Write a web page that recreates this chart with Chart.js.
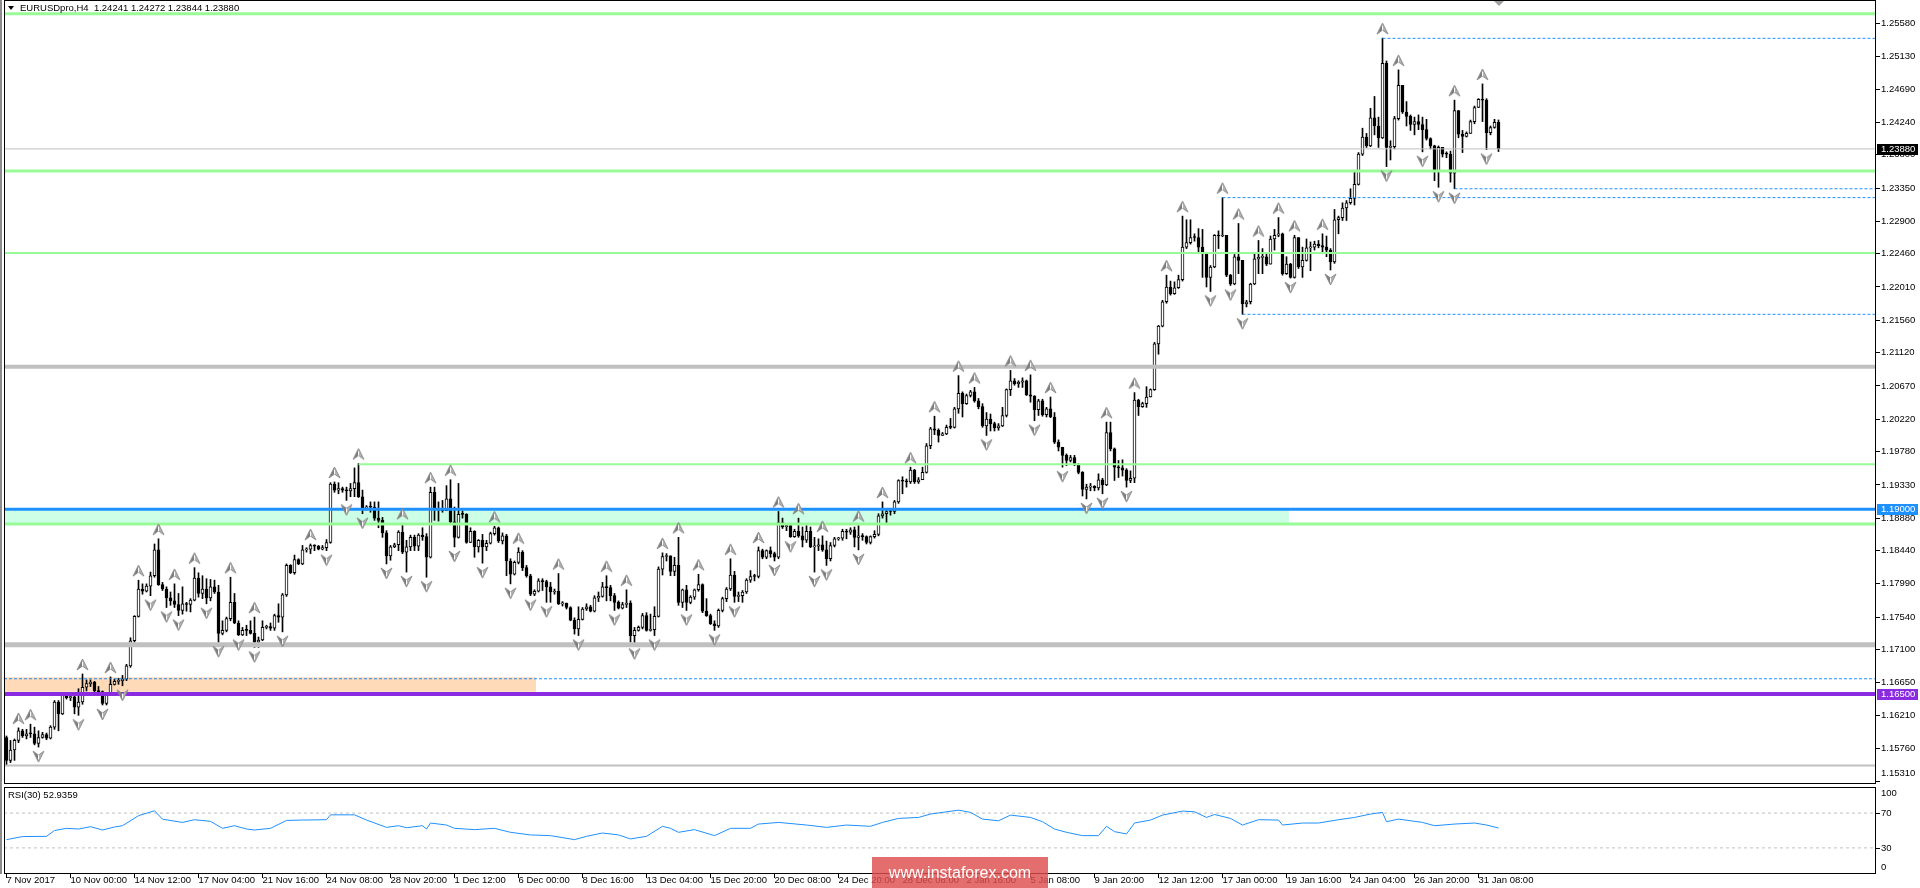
<!DOCTYPE html>
<html><head><meta charset="utf-8">
<script src="https://cdn.jsdelivr.net/npm/chart.js@4.4.1/dist/chart.umd.min.js"></script>
<style>
html,body{margin:0;padding:0;background:#fff;width:1920px;height:888px;overflow:hidden;position:relative;}
canvas{position:absolute;left:0;}
#c1{top:0;}
#c2{top:786px;}
.t{position:absolute;font-family:"Liberation Sans",Arial,sans-serif;font-size:9.5px;color:#000;white-space:pre;line-height:12px;}
#edge{position:absolute;left:0;top:0;width:2px;height:874px;background:#8c8c8c;}
#wm{position:absolute;left:872px;top:857px;width:176px;height:31px;background:rgba(222,78,78,0.82);color:#fff;font-family:"Liberation Sans",Arial,sans-serif;font-size:16px;text-align:center;line-height:31px;}
</style></head><body>
<canvas id="c1" width="1920" height="786"></canvas>
<canvas id="c2" width="1920" height="102"></canvas>
<div id="edge"></div>
<div class="t" style="left:20px;top:2px">EURUSDpro,H4  1.24241 1.24272 1.23844 1.23880</div>
<div class="t" style="left:8px;top:789px">RSI(30) 52.9359</div>
<div id="wm">www.instaforex.com</div>
<script>
// ---------- DATA ----------
const firstOpen = 1.1591;
const closes = [1.1560,1.1574,1.1587,1.1600,1.1593,1.1596,1.1596,1.1583,1.1591,1.1595,1.1590,1.1605,1.1639,1.1623,1.1648,1.1645,1.1646,1.1632,1.1639,1.1659,
1.1664,1.1666,1.1654,1.1653,1.1637,1.1650,1.1663,1.1667,1.1668,1.1670,1.1688,1.1722,1.1755,1.1792,1.1789,1.1796,1.1810,1.1845,1.1798,1.1792,
1.1780,1.1776,1.1771,1.1763,1.1772,1.1771,1.1777,1.1807,1.1786,1.1792,1.1780,1.1795,1.1788,1.1732,1.1736,1.1752,1.1774,1.1746,1.1730,1.1736,
1.1736,1.1732,1.1720,1.1723,1.1740,1.1741,1.1739,1.1756,1.1754,1.1784,1.1824,1.1814,1.1832,1.1826,1.1845,1.1846,1.1851,1.1850,1.1846,1.1848,
1.1855,1.1934,1.1926,1.1928,1.1926,1.1925,1.1928,1.1936,1.1917,1.1902,1.1903,1.1903,1.1888,1.1885,1.1868,1.1837,1.1849,1.1852,1.1869,1.1842,
1.1849,1.1862,1.1850,1.1865,1.1863,1.1835,1.1923,1.1901,1.1899,1.1898,1.1914,1.1883,1.1862,1.1893,1.1893,1.1855,1.1870,1.1849,1.1858,1.1849,
1.1854,1.1867,1.1875,1.1857,1.1864,1.1830,1.1812,1.1828,1.1842,1.1821,1.1810,1.1785,1.1789,1.1803,1.1802,1.1795,1.1788,1.1789,1.1772,1.1773,
1.1767,1.1750,1.1738,1.1751,1.1765,1.1768,1.1762,1.1780,1.1782,1.1795,1.1794,1.1783,1.1774,1.1766,1.1771,1.1773,1.1729,1.1736,1.1740,1.1756,
1.1736,1.1737,1.1755,1.1819,1.1836,1.1837,1.1816,1.1824,1.1774,1.1791,1.1774,1.1781,1.1791,1.1798,1.1762,1.1756,1.1745,1.1742,1.1763,1.1779,
1.1792,1.1811,1.1782,1.1783,1.1788,1.1804,1.1809,1.1809,1.1844,1.1835,1.1844,1.1840,1.1835,1.1882,1.1876,1.1878,1.1863,1.1870,1.1864,1.1858,
1.1870,1.1849,1.1850,1.1852,1.1845,1.1833,1.1851,1.1860,1.1861,1.1870,1.1869,1.1872,1.1862,1.1864,1.1863,1.1855,1.1863,1.1866,1.1891,1.1894,
1.1897,1.1897,1.1910,1.1939,1.1938,1.1937,1.1953,1.1937,1.1940,1.1950,1.1986,1.2009,1.2007,1.2000,1.2002,1.2011,1.2011,1.2036,1.2057,1.2043,
1.2054,1.2059,1.2047,1.2039,1.2013,1.2022,1.2016,1.2010,1.2013,1.2027,1.2062,1.2074,1.2070,1.2072,1.2074,1.2055,1.2053,1.2035,1.2047,1.2028,
1.2036,1.2025,1.1991,1.1984,1.1973,1.1966,1.1970,1.1961,1.1950,1.1927,1.1930,1.1931,1.1929,1.1940,1.1933,1.2004,1.1982,1.1957,1.1956,1.1953,
1.1939,1.1942,1.2048,1.2039,1.2043,1.2052,1.2062,1.2124,1.2148,1.2181,1.2201,1.2192,1.2200,1.2211,1.2255,1.2261,1.2268,1.2268,1.2255,1.2246,
1.2214,1.2228,1.2271,1.2270,1.2271,1.2217,1.2205,1.2242,1.2237,1.2178,1.2181,1.2205,1.2239,1.2241,1.2242,1.2232,1.2266,1.2271,1.2273,1.2219,
1.2232,1.2214,1.2268,1.2228,1.2237,1.2254,1.2255,1.2259,1.2257,1.2255,1.2251,1.2235,1.2292,1.2295,1.2308,1.2315,1.2321,1.2340,1.2381,1.2404,
1.2392,1.2430,1.2419,1.2403,1.2504,1.2390,1.2391,1.2429,1.2474,1.2438,1.2432,1.2421,1.2425,1.2421,1.2414,1.2402,1.2392,1.2357,1.2390,1.2381,
1.2381,1.2355,1.2440,1.2408,1.2405,1.2409,1.2425,1.2444,1.2455,1.2454,1.2410,1.2417,1.2424,1.2388];
const highs = [1.1593,1.1587,1.1589,1.1604,1.1602,1.1602,1.1609,1.1605,1.1600,1.1598,1.1597,1.1607,1.1641,1.1641,1.1650,1.1650,1.1651,1.1648,1.1657,1.1677,
1.1669,1.1669,1.1667,1.1660,1.1654,1.1652,1.1673,1.1670,1.1671,1.1675,1.1690,1.1726,1.1756,1.1804,1.1799,1.1799,1.1815,1.1853,1.1860,1.1801,
1.1795,1.1788,1.1799,1.1786,1.1795,1.1774,1.1779,1.1821,1.1814,1.1810,1.1806,1.1805,1.1804,1.1797,1.1749,1.1754,1.1808,1.1786,1.1749,1.1740,
1.1743,1.1749,1.1754,1.1727,1.1749,1.1743,1.1746,1.1758,1.1772,1.1786,1.1826,1.1825,1.1838,1.1833,1.1851,1.1848,1.1853,1.1852,1.1851,1.1851,
1.1859,1.1936,1.1937,1.1936,1.1930,1.1930,1.1935,1.1956,1.1962,1.1926,1.1905,1.1910,1.1910,1.1910,1.1889,1.1871,1.1851,1.1854,1.1871,1.1881,
1.1858,1.1865,1.1865,1.1867,1.1875,1.1867,1.1930,1.1930,1.1910,1.1912,1.1932,1.1940,1.1903,1.1935,1.1898,1.1894,1.1875,1.1871,1.1859,1.1866,
1.1858,1.1869,1.1877,1.1876,1.1868,1.1866,1.1833,1.1830,1.1848,1.1844,1.1824,1.1812,1.1791,1.1806,1.1806,1.1804,1.1801,1.1792,1.1813,1.1775,
1.1773,1.1768,1.1753,1.1768,1.1767,1.1772,1.1770,1.1783,1.1788,1.1801,1.1810,1.1797,1.1786,1.1776,1.1774,1.1791,1.1776,1.1740,1.1742,1.1759,
1.1760,1.1758,1.1768,1.1822,1.1841,1.1840,1.1837,1.1835,1.1862,1.1792,1.1797,1.1783,1.1792,1.1812,1.1799,1.1779,1.1758,1.1749,1.1765,1.1781,
1.1794,1.1833,1.1816,1.1788,1.1790,1.1806,1.1817,1.1812,1.1849,1.1846,1.1845,1.1849,1.1842,1.1897,1.1888,1.1881,1.1880,1.1873,1.1888,1.1876,
1.1878,1.1876,1.1862,1.1860,1.1864,1.1857,1.1855,1.1862,1.1862,1.1873,1.1873,1.1875,1.1876,1.1878,1.1867,1.1864,1.1864,1.1871,1.1894,1.1910,
1.1901,1.1899,1.1912,1.1940,1.1944,1.1941,1.1957,1.1954,1.1943,1.1957,1.1989,1.2011,1.2026,1.2009,1.2004,1.2014,1.2023,1.2038,1.2081,1.2059,
1.2056,1.2061,1.2065,1.2050,1.2043,1.2031,1.2029,1.2018,1.2016,1.2038,1.2063,1.2088,1.2077,1.2074,1.2078,1.2075,1.2082,1.2054,1.2049,1.2049,
1.2038,1.2052,1.2031,1.1994,1.1984,1.1975,1.1973,1.1973,1.1962,1.1951,1.1934,1.1935,1.1932,1.1948,1.1942,1.2018,1.2018,1.1983,1.1966,1.1967,
1.1955,1.1952,1.2058,1.2049,1.2045,1.2066,1.2063,1.2126,1.2149,1.2183,1.2217,1.2209,1.2208,1.2217,1.2297,1.2292,1.2292,1.2273,1.2280,1.2279,
1.2248,1.2230,1.2272,1.2277,1.2322,1.2270,1.2218,1.2245,1.2287,1.2233,1.2183,1.2206,1.2246,1.2264,1.2253,1.2246,1.2270,1.2279,1.2295,1.2274,
1.2242,1.2233,1.2271,1.2268,1.2255,1.2266,1.2262,1.2263,1.2264,1.2273,1.2270,1.2253,1.2306,1.2297,1.2315,1.2318,1.2334,1.2357,1.2383,1.2416,
1.2409,1.2443,1.2459,1.2431,1.2538,1.2507,1.2399,1.2432,1.2495,1.2474,1.2452,1.2434,1.2431,1.2434,1.2431,1.2428,1.2403,1.2393,1.2392,1.2388,
1.2384,1.2385,1.2454,1.2440,1.2413,1.2411,1.2427,1.2446,1.2456,1.2476,1.2456,1.2419,1.2428,1.24272];
const lows = [1.1553,1.1557,1.1560,1.1584,1.1591,1.1589,1.1591,1.1581,1.1578,1.1590,1.1588,1.1589,1.1602,1.1600,1.1622,1.1643,1.1641,1.1623,1.1621,1.1636,
1.1654,1.1660,1.1652,1.1650,1.1635,1.1635,1.1648,1.1662,1.1663,1.1661,1.1668,1.1686,1.1720,1.1754,1.1785,1.1788,1.1783,1.1808,1.1797,1.1790,
1.1767,1.1770,1.1767,1.1756,1.1758,1.1762,1.1761,1.1776,1.1781,1.1779,1.1772,1.1776,1.1786,1.1720,1.1730,1.1734,1.1749,1.1745,1.1729,1.1729,
1.1729,1.1731,1.1713,1.1713,1.1722,1.1738,1.1736,1.1736,1.1747,1.1734,1.1782,1.1813,1.1812,1.1825,1.1825,1.1842,1.1840,1.1844,1.1845,1.1845,
1.1844,1.1854,1.1923,1.1921,1.1923,1.1912,1.1917,1.1917,1.1916,1.1894,1.1899,1.1896,1.1885,1.1875,1.1862,1.1826,1.1831,1.1848,1.1844,1.1840,
1.1815,1.1844,1.1844,1.1844,1.1858,1.1808,1.1834,1.1885,1.1884,1.1896,1.1898,1.1881,1.1849,1.1861,1.1888,1.1854,1.1855,1.1835,1.1842,1.1827,
1.1844,1.1853,1.1865,1.1855,1.1853,1.1810,1.1799,1.1811,1.1826,1.1817,1.1808,1.1783,1.1783,1.1788,1.1790,1.1774,1.1774,1.1785,1.1771,1.1769,
1.1765,1.1749,1.1731,1.1729,1.1750,1.1763,1.1761,1.1761,1.1775,1.1781,1.1776,1.1776,1.1763,1.1765,1.1765,1.1767,1.1720,1.1717,1.1735,1.1738,
1.1735,1.1735,1.1729,1.1754,1.1811,1.1830,1.1810,1.1810,1.1770,1.1767,1.1763,1.1772,1.1778,1.1789,1.1760,1.1755,1.1744,1.1736,1.1740,1.1761,
1.1775,1.1790,1.1774,1.1775,1.1774,1.1786,1.1801,1.1803,1.1807,1.1833,1.1833,1.1835,1.1830,1.1833,1.1874,1.1871,1.1862,1.1862,1.1862,1.1849,
1.1855,1.1848,1.1815,1.1844,1.1843,1.1824,1.1830,1.1849,1.1858,1.1858,1.1860,1.1866,1.1849,1.1845,1.1858,1.1853,1.1853,1.1861,1.1864,1.1888,
1.1882,1.1892,1.1894,1.1908,1.1921,1.1930,1.1935,1.1935,1.1935,1.1941,1.1949,1.1982,1.2001,1.1991,1.2000,1.2001,1.2009,1.2010,1.2030,1.2025,
1.2042,1.2052,1.2045,1.2036,1.2011,1.2000,1.2006,1.2006,1.2007,1.2012,1.2025,1.2054,1.2068,1.2065,1.2065,1.2054,1.2045,1.2020,1.2027,1.2026,
1.2025,1.2024,1.1989,1.1979,1.1957,1.1959,1.1964,1.1959,1.1948,1.1918,1.1914,1.1925,1.1925,1.1926,1.1921,1.1932,1.1979,1.1939,1.1943,1.1945,
1.1930,1.1936,1.1936,1.2027,1.2038,1.2038,1.2052,1.2061,1.2110,1.2147,1.2179,1.2190,1.2191,1.2199,1.2209,1.2253,1.2259,1.2263,1.2246,1.2214,
1.2201,1.2195,1.2227,1.2253,1.2269,1.2215,1.2203,1.2204,1.2219,1.2164,1.2174,1.2178,1.2204,1.2219,1.2219,1.2230,1.2232,1.2251,1.2269,1.2217,
1.2218,1.2213,1.2213,1.2226,1.2214,1.2236,1.2223,1.2251,1.2254,1.2246,1.2242,1.2224,1.2233,1.2273,1.2291,1.2291,1.2313,1.2312,1.2339,1.2379,
1.2390,1.2391,1.2407,1.2390,1.2402,1.2364,1.2373,1.2388,1.2427,1.2436,1.2419,1.2413,1.2407,1.2414,1.2384,1.2400,1.2388,1.2345,1.2336,1.2377,
1.2376,1.2343,1.2334,1.2403,1.2383,1.2404,1.2409,1.2422,1.2444,1.2425,1.2387,1.2407,1.2416,1.23844];

const rsiIdx = [0,4,10,12,15,18,21,24,27,29,33,37,39,44,47,51,54,57,60,62,66,70,74,80,81,87,90,95,98,100,104,105,106,110,112,117,122,126,131,136,
142,145,149,153,156,160,164,166,168,172,177,181,186,188,193,200,205,210,216,219,223,228,231,238,241,244,248,251,256,259,262,265,269,273,275,277,280,282,286,289,
294,297,300,302,306,309,313,318,319,324,328,333,337,341,344,345,348,354,357,362,367,370,373];
const rsiVals = [39.5,43,43.3,50,52.5,51.7,54.4,50.6,54,55.5,67,72.7,63,59.3,62.4,60.5,52.5,55.5,51.7,50.6,52.5,61.6,62,62.4,68,68,62,53.6,55.5,53.2,55.5,51.7,58.6,56.3,52.5,51,52.5,47.9,44.9,44.1,
39.5,43.3,47.1,44.9,40.3,43.3,54.8,52.5,47.9,51,44.1,52.5,52.5,57.4,59.3,56.3,53.6,56.3,54.8,59.3,63.9,65,68.9,73.4,70.8,63.1,61.2,67.7,65,60.1,51.7,47.9,44.1,44.1,54.8,48.7,46,58.6,62,67.7,
72.3,71.5,65,68.4,63.9,56.3,62.4,62,56.3,58.6,58.6,62.4,65,68.9,70.8,60.1,63.1,59.3,55.5,57.4,58.6,56.3,52.9];
const rsiLevels = [70, 30];

const priceTicks = [1.25580,1.25130,1.24690,1.24240,1.23800,1.23350,1.22900,1.22460,1.22010,1.21560,1.21120,1.20670,1.20220,1.19780,1.19330,1.18880,1.18440,1.17990,1.17540,1.17100,1.16650,1.16210,1.15760,1.15310];
const timeTickIdx = [0,16,32,48,64,80,96,112,128,144,160,176,192,208,224,240,256,272,288,304,320,336,352,368];
const timeTickLabels = ['7 Nov 2017','10 Nov 00:00','14 Nov 12:00','17 Nov 04:00','21 Nov 16:00','24 Nov 08:00','28 Nov 20:00','1 Dec 12:00','6 Dec 00:00','8 Dec 16:00','13 Dec 04:00','15 Dec 20:00','20 Dec 08:00','24 Dec 20:00','28 Dec 08:00','2 Jan 16:00','5 Jan 08:00','9 Jan 20:00','12 Jan 12:00','17 Jan 00:00','19 Jan 16:00','24 Jan 04:00','26 Jan 20:00','31 Jan 08:00'];

// horizontal objects (prices, start bar index)
const greenLevels = [1.2571, 1.2358, 1.2247, 1.1961, 1.1880];
const greenStarts = [null, null, null, 88, null];
const grayLevels = [1.2093, 1.17165, 1.1553];
const dashedLevels = [1.25377, 1.2334, 1.2322, 1.2164, 1.16705];
const dashedStarts = [344, 362, 304, 309, null];
const bidPrice = 1.23880;
const blueLevel = 1.19000;
const purpleLevel = 1.16500;
const greenZone = [1.1880, 1.1900], greenZoneEnd = 320.6;
const orangeZone = [1.16530, 1.16727], orangeZoneEnd = 132.4;

// ---------- BUILD ----------
const FONT = '"Liberation Sans", Arial, sans-serif';
const XMIN = -0.625, XMAX = 467.375;
const YMAX = 1.25896, YMIN = 1.15280;
const opens = closes.map((c, i) => i === 0 ? firstOpen : closes[i - 1]);
const wickData = closes.map((c, i) => ({x: i, y: [Math.min(lows[i], opens[i], c), Math.max(highs[i], opens[i], c)]}));
const bodyData = closes.map((c, i) => ({x: i, y: [opens[i], c]}));
const bodyColors = closes.map((c, i) => c > opens[i] ? '#ffffff' : '#000000');

function hline(p, start, end, color, width, dash, order) {
  return {type: 'line', data: [{x: start == null ? XMIN : start, y: p}, {x: end == null ? XMAX : end, y: p}],
    borderColor: color, borderWidth: width, borderDash: dash || [], pointRadius: 0, fill: false, order: order, tension: 0};
}
function arrowCanvas(up) {
  const c = document.createElement('canvas'); c.width = 13; c.height = 40;
  const g = c.getContext('2d');
  const t = up ? 5 : 35, b = up ? 16 : 24, n = up ? 12 : 28;
  g.lineJoin = 'round';
  g.beginPath(); g.moveTo(6.5, t); g.lineTo(1, b); g.lineTo(6.5, n); g.closePath(); g.fillStyle = '#7c7c7c'; g.fill();
  g.beginPath(); g.moveTo(6.5, t); g.lineTo(12, b); g.lineTo(6.5, n); g.closePath(); g.fillStyle = '#b4b4b4'; g.fill();
  g.beginPath(); g.moveTo(6.5, t); g.lineTo(1, b); g.lineTo(6.5, n); g.lineTo(12, b); g.closePath();
  g.strokeStyle = '#8c8c8c'; g.lineWidth = 1; g.stroke();
  g.strokeStyle = '#ffffff'; g.beginPath(); g.moveTo(6.5, t + (up ? 3 : -3)); g.lineTo(6.5, n); g.stroke();
  return c;
}
const upFr = [], dnFr = [];
for (let i = 2; i < closes.length - 2; i++) {
  const h = highs[i], l = lows[i];
  if (h > highs[i-1] && h > highs[i-2] && h >= highs[i+1] && h >= highs[i+2]) upFr.push({x: i, y: h});
  if (l < lows[i-1] && l < lows[i-2] && l <= lows[i+1] && l <= lows[i+2]) dnFr.push({x: i, y: l});
}

const datasets = [];
datasets.push({type:'line', data:[{x:XMIN,y:greenZone[1]},{x:greenZoneEnd,y:greenZone[1]}], borderWidth:0, pointRadius:0, fill:'+1', backgroundColor:'rgb(204,255,230)', order:100});
datasets.push({type:'line', data:[{x:XMIN,y:greenZone[0]},{x:greenZoneEnd,y:greenZone[0]}], borderWidth:0, pointRadius:0, fill:false, order:100});
datasets.push({type:'line', data:[{x:XMIN,y:orangeZone[1]},{x:orangeZoneEnd,y:orangeZone[1]}], borderWidth:0, pointRadius:0, fill:'+1', backgroundColor:'rgb(255,218,185)', order:100});
datasets.push({type:'line', data:[{x:XMIN,y:orangeZone[0]},{x:orangeZoneEnd,y:orangeZone[0]}], borderWidth:0, pointRadius:0, fill:false, order:100});
datasets.push({type:'bar', data: wickData, backgroundColor:'#000', borderWidth:0, barThickness:1, grouped:false, order:50});
datasets.push({type:'bar', data: bodyData, backgroundColor: bodyColors, borderColor:'#000', borderWidth:1, borderSkipped:false, barThickness:3, minBarLength:1, grouped:false, order:40});
const gw = [3, 3, 2, 2, 3];
greenLevels.forEach((p, k) => datasets.push(hline(p, greenStarts[k], null, 'rgb(152,251,152)', gw[k], null, 30)));
const grw = [4, 5, 2];
grayLevels.forEach((p, k) => datasets.push(hline(p, null, null, 'rgb(192,192,192)', grw[k], null, 30)));
dashedLevels.forEach((p, k) => datasets.push(hline(p, dashedStarts[k], null, 'rgb(30,144,255)', 1, [3, 2], 30)));
datasets.push(hline(bidPrice, null, null, 'rgb(192,192,192)', 1, null, 30));
datasets.push(hline(blueLevel, null, null, 'rgb(30,144,255)', 3, null, 30));
datasets.push(hline(purpleLevel, null, null, 'rgb(138,43,226)', 4, null, 30));
datasets.push({type:'line', data: upFr, showLine:false, pointStyle: arrowCanvas(true), pointRadius:5, order:10, clip:false});
datasets.push({type:'line', data: dnFr, showLine:false, pointStyle: arrowCanvas(false), pointRadius:5, order:10, clip:false});

const framePlugin = {
  id: 'frame',
  afterDraw(chart) {
    const {ctx, chartArea: a} = chart;
    ctx.save();
    ctx.strokeStyle = '#000'; ctx.lineWidth = 1;
    ctx.strokeRect(a.left + 0.5, a.top + 0.5, a.right - a.left - 1, a.bottom - a.top - 1);
    ctx.restore();
  }
};
const lastPriceTick = priceTicks[priceTicks.length - 1];
const boxPlugin = {
  id: 'boxes',
  afterDraw(chart) {
    const {ctx, chartArea: a} = chart; const ys = chart.scales.y;
    const items = [[bidPrice, '#000000'], [blueLevel, 'rgb(30,144,255)'], [purpleLevel, 'rgb(138,43,226)']];
    ctx.save();
    ctx.font = '9.5px ' + FONT; ctx.textBaseline = 'middle'; ctx.textAlign = 'left';
    ctx.fillStyle = '#000';
    ctx.fillText(lastPriceTick.toFixed(5), 1881, Math.min(ys.getPixelForValue(lastPriceTick), a.bottom - 11));
    items.forEach(([p, col]) => {
      const y = Math.round(ys.getPixelForValue(p));
      ctx.fillStyle = col; ctx.fillRect(1877, y - 5, 41, 11);
      ctx.fillStyle = '#fff'; ctx.fillText(p.toFixed(5), 1881, y + 0.5);
    });
    ctx.fillStyle = '#000';
    ctx.beginPath(); ctx.moveTo(8, 6); ctx.lineTo(14, 6); ctx.lineTo(11, 10); ctx.closePath(); ctx.fill();
    ctx.fillStyle = '#a0a0a0';
    ctx.beginPath(); ctx.moveTo(1494, 1); ctx.lineTo(1504, 1); ctx.lineTo(1499, 6); ctx.closePath(); ctx.fill();
    ctx.restore();
  }
};

new Chart(document.getElementById('c1'), {
  type: 'bar',
  data: {datasets},
  options: {
    responsive: false, animation: false, devicePixelRatio: 1,
    layout: {autoPadding: false, padding: {left: 4, top: 0, right: 0, bottom: 2}},
    plugins: {legend: {display: false}, tooltip: {enabled: false}},
    scales: {
      x: {type: 'linear', min: XMIN, max: XMAX, display: false, offset: false},
      y: {type: 'linear', position: 'right', min: YMIN, max: YMAX,
          afterBuildTicks: s => { s.ticks = priceTicks.map(v => ({value: v})); },
          afterFit: s => { s.width = 44; s.paddingTop = 0; s.paddingBottom = 0; },
          ticks: {callback: v => v === lastPriceTick ? '' : Number(v).toFixed(5), font: {family: FONT, size: 9.5}, color: '#000', padding: 1, autoSkip: false},
          grid: {drawOnChartArea: false, tickLength: 4, color: '#000'},
          border: {display: false}}
    }
  },
  plugins: [framePlugin, boxPlugin]
});

// ---------- RSI ----------
const rsiData = rsiIdx.map((x, k) => ({x, y: rsiVals[k]}));
const rsiLabelPlugin = {
  id: 'rsiLabels',
  afterDraw(chart) {
    const {ctx, chartArea: a} = chart; const ys = chart.scales.y;
    ctx.save();
    ctx.font = '9.5px ' + FONT; ctx.textBaseline = 'middle'; ctx.textAlign = 'left'; ctx.fillStyle = '#000'; ctx.strokeStyle = '#000';
    [100, 70, 30, 0].forEach(v => {
      let y = ys.getPixelForValue(v);
      if (v === 70 || v === 30) { ctx.beginPath(); ctx.moveTo(1876, Math.round(y) + 0.5); ctx.lineTo(1880, Math.round(y) + 0.5); ctx.stroke(); }
      y = Math.min(Math.max(y, a.top + 6), a.bottom - 7);
      ctx.fillText(String(v), 1881, y);
    });
    ctx.restore();
  }
};
new Chart(document.getElementById('c2'), {
  type: 'line',
  data: {datasets: [
    {data: rsiData, borderColor: 'rgb(30,144,255)', borderWidth: 1, pointRadius: 0, tension: 0, order: 1},
    ...rsiLevels.map(v => ({data: [{x: XMIN, y: v}, {x: XMAX, y: v}], borderColor: 'rgb(192,192,192)', borderWidth: 1, borderDash: [3, 3], pointRadius: 0, order: 5}))
  ]},
  options: {
    responsive: false, animation: false, devicePixelRatio: 1,
    layout: {autoPadding: false, padding: {left: 4, top: 1, right: 0, bottom: 0}},
    plugins: {legend: {display: false}, tooltip: {enabled: false}},
    scales: {
      x: {type: 'linear', min: XMIN, max: XMAX, offset: false,
          afterBuildTicks: s => { s.ticks = timeTickIdx.map(v => ({value: v})); },
          afterFit: s => { s.height = 14; s.paddingLeft = 0; s.paddingRight = 0; },
          ticks: {callback: (v, i) => timeTickLabels[i], align: 'start', maxRotation: 0, autoSkip: false, font: {family: FONT, size: 9.5}, color: '#000', padding: -3},
          grid: {drawOnChartArea: false, tickLength: 4, color: '#000'},
          border: {display: false}},
      y: {type: 'linear', position: 'right', min: 0, max: 100,
          afterFit: s => { s.width = 44; s.paddingTop = 0; s.paddingBottom = 0; },
          ticks: {display: false},
          grid: {display: false},
          border: {display: false}}
    }
  },
  plugins: [framePlugin, rsiLabelPlugin]
});
</script>
</body></html>
